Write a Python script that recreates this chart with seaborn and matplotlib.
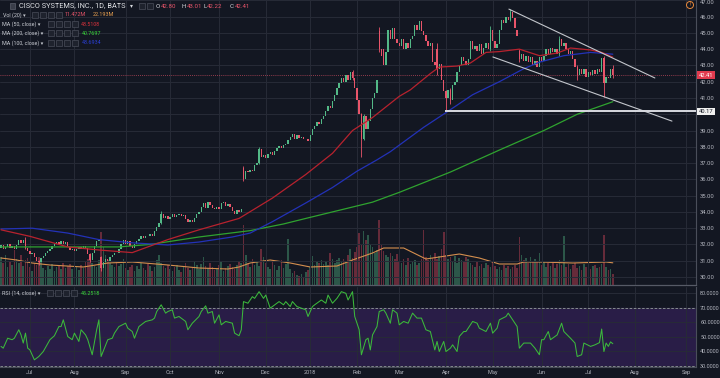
import matplotlib
matplotlib.use("Agg")
import matplotlib.pyplot as plt
from matplotlib.patches import Rectangle, Ellipse
from matplotlib.ticker import FormatStrFormatter
import numpy as np
import pandas as pd
import seaborn as sns

# ---- data: one bar per trading day, index 0 = 2017-06-14 ----
opens = [31.80, 31.95, 31.70, 31.85, 32.05, 31.80, 31.90, 31.75, 31.95, 32.30, 32.10, 32.30, 31.80, 31.60, 31.40, 31.50, 31.20, 31.00, 30.90, 31.15,
         31.30, 31.45, 31.60, 31.75, 31.90, 32.00, 32.15, 32.00, 32.20, 32.05, 32.15, 31.85, 31.65, 31.75, 31.60, 31.70, 31.85, 31.75, 31.90, 31.80,
         31.40, 31.05, 31.50, 31.90, 32.20, 31.20, 30.55, 30.90, 31.10, 31.00, 31.25, 31.35, 31.50, 31.45, 31.70, 32.00, 32.25, 32.05, 32.20, 31.90,
         31.80, 32.00, 32.20, 32.35, 32.50, 32.40, 32.55, 32.50, 32.65, 32.55, 32.80, 33.10, 33.30, 33.90, 33.60, 33.75, 33.55, 33.70, 33.85, 33.70,
         33.80, 33.90, 33.75, 33.80, 33.55, 33.40, 33.50, 33.35, 33.60, 33.85, 34.00, 34.30, 34.55, 34.25, 34.60, 34.40, 34.25, 34.15, 34.30, 34.20,
         34.55, 34.60, 34.35, 34.50, 34.30, 34.05, 33.90, 34.10, 34.00, 36.70, 36.00, 36.50, 36.45, 36.60, 36.50, 36.90, 37.00, 37.85, 37.40, 37.50,
         37.30, 37.55, 37.70, 37.50, 37.75, 37.90, 38.05, 37.95, 38.10, 38.20, 38.40, 38.60, 38.80, 38.50, 38.70, 38.55, 38.60, 38.45, 38.50, 38.35,
         38.75, 39.10, 39.30, 39.50, 39.40, 39.70, 39.90, 40.20, 40.50, 40.40, 40.80, 41.20, 41.60, 41.90, 42.20, 42.00, 42.40, 42.10, 42.60, 42.20,
         41.60, 40.90, 40.00, 38.50, 39.90, 39.10, 39.60, 40.30, 41.00, 41.30, 45.10, 44.00, 44.00, 43.00, 43.80, 45.20, 44.60, 45.30, 44.60, 44.40,
         44.20, 44.60, 44.00, 44.40, 44.10, 44.60, 44.80, 45.50, 45.20, 45.70, 45.10, 44.90, 44.50, 44.20, 44.40, 43.20, 44.00, 42.80, 43.10, 42.10,
         41.40, 41.00, 41.50, 40.90, 41.80, 42.00, 42.60, 43.00, 43.50, 43.30, 43.00, 43.40, 44.50, 44.00, 44.20, 43.90, 44.30, 43.70, 44.10, 44.40,
         44.00, 45.20, 44.50, 44.10, 44.30, 45.20, 45.80, 45.60, 46.00, 45.80, 46.30, 45.90, 45.20, 43.90, 43.40, 43.70, 43.30, 43.60, 43.20, 43.50,
         43.00, 43.30, 42.90, 43.50, 43.30, 43.60, 44.00, 43.70, 44.10, 43.80, 44.00, 43.70, 44.60, 44.20, 44.40, 44.00, 43.70, 43.90, 43.40, 42.90,
         42.40, 42.80, 42.50, 42.80, 42.30, 42.60, 42.40, 42.70, 42.50, 42.80, 42.60, 43.45, 41.95, 42.30, 42.20, 42.80]
closes = [31.95, 31.70, 31.85, 32.05, 31.80, 31.90, 31.75, 31.95, 32.30, 32.10, 32.30, 31.80, 31.60, 31.40, 31.50, 31.20, 31.00, 30.90, 31.15, 31.30,
          31.45, 31.60, 31.75, 31.90, 32.00, 32.15, 32.00, 32.20, 32.05, 32.15, 31.85, 31.65, 31.75, 31.60, 31.70, 31.85, 31.75, 31.90, 31.80, 31.40,
          31.05, 31.50, 31.90, 32.20, 32.35, 30.55, 30.90, 31.10, 31.00, 31.25, 31.35, 31.50, 31.45, 31.70, 32.00, 32.25, 32.05, 32.20, 31.90, 31.80,
          32.00, 32.20, 32.35, 32.50, 32.40, 32.55, 32.50, 32.65, 32.55, 32.80, 33.10, 33.30, 33.90, 33.60, 33.75, 33.55, 33.70, 33.85, 33.70, 33.80,
          33.90, 33.75, 33.80, 33.55, 33.40, 33.50, 33.35, 33.60, 33.85, 34.00, 34.30, 34.55, 34.25, 34.60, 34.40, 34.25, 34.15, 34.30, 34.20, 34.55,
          34.60, 34.35, 34.50, 34.30, 34.05, 33.90, 34.10, 34.00, 34.15, 36.00, 36.50, 36.45, 36.60, 36.50, 36.90, 37.00, 37.85, 37.40, 37.50, 37.30,
          37.55, 37.70, 37.50, 37.75, 37.90, 38.05, 37.95, 38.10, 38.20, 38.40, 38.60, 38.80, 38.50, 38.70, 38.55, 38.60, 38.45, 38.50, 38.35, 38.75,
          39.10, 39.30, 39.50, 39.40, 39.70, 39.90, 40.20, 40.50, 40.40, 40.80, 41.20, 41.60, 41.90, 42.20, 42.00, 42.40, 42.10, 42.60, 42.20, 41.60,
          40.90, 40.00, 38.50, 39.90, 39.10, 39.60, 40.30, 41.00, 41.30, 42.10, 44.00, 43.60, 43.00, 43.80, 45.20, 44.60, 45.30, 44.60, 44.40, 44.20,
          44.60, 44.00, 44.40, 44.10, 44.60, 44.80, 45.50, 45.20, 45.70, 45.10, 44.90, 44.50, 44.20, 44.40, 43.20, 43.00, 42.80, 43.10, 42.10, 41.40,
          41.00, 41.50, 40.90, 41.80, 42.00, 42.60, 43.00, 43.50, 43.30, 43.00, 43.40, 44.50, 44.00, 44.20, 43.90, 44.30, 43.70, 44.10, 44.40, 44.00,
          45.20, 44.50, 44.10, 44.30, 45.20, 45.80, 45.60, 46.00, 45.80, 46.30, 45.90, 45.30, 44.80, 43.40, 43.70, 43.30, 43.60, 43.20, 43.50, 43.00,
          43.30, 42.90, 43.50, 43.30, 43.60, 44.00, 43.70, 44.10, 43.80, 44.00, 43.70, 44.60, 44.20, 44.40, 44.00, 43.70, 43.90, 43.40, 42.90, 42.40,
          42.80, 42.50, 42.80, 42.30, 42.60, 42.40, 42.70, 42.50, 42.80, 42.60, 43.45, 41.95, 42.30, 42.20, 42.80, 42.41]
# visible wicks (bar index, low, high)
wick_idx = [11, 17, 40, 45, 72, 109, 116, 158, 162, 163, 170, 196, 200, 202, 220, 229, 233, 251, 259, 271, 275]
wick_lo = [31.70, 30.75, 30.95, 30.40, 33.25, 35.90, 36.95, 42.10, 37.40, 38.40, 43.80, 42.40, 40.17, 40.60, 43.90, 45.70, 43.20, 43.60, 42.10, 41.06, 42.22]
wick_hi = [32.45, 31.05, 31.45, 31.30, 34.05, 36.85, 38.00, 42.75, 40.10, 40.00, 45.35, 44.40, 41.50, 41.60, 45.40, 46.45, 44.00, 44.80, 43.00, 43.60, 43.01]
# volume in millions
volumes = [28, 22, 30, 18, 24, 20, 35, 26, 22, 30, 19, 25, 27,
           18, 14, 22, 20, 28, 24, 17,
           15, 19, 16, 21, 14, 18, 20, 16, 22, 17, 19,
           21, 16, 24, 18, 15, 20, 17, 23, 26, 30, 22, 19, 18, 25,
           53,
           38, 30, 25, 22, 20, 18, 24, 19, 21, 26, 17,
           15, 18, 20, 14, 19, 16, 22, 17, 15, 21, 19, 14, 18, 25, 30, 22, 19, 17, 20,
           16, 14, 18, 20, 15, 13, 19, 22, 17, 15, 18, 24, 20, 16, 21, 28, 19, 17, 22, 18, 15, 16, 20, 23, 14, 17, 19, 21, 18, 16, 20, 24, 22,
           60,
           30, 22, 18, 26, 20, 24, 19,
           36, 28,
           22, 18, 16, 24, 20, 15, 19, 25, 17, 21,
           46,
           16, 12, 14, 10, 9, 11, 8, 13, 15,
           18, 29, 20, 23, 22, 25, 21, 24, 20,
           32,
           26, 22, 25, 27, 23, 26, 24, 30, 36, 27,
           33, 38,
           52, 40, 54, 45,
           50, 41,
           38, 32, 35,
           65,
           40, 34, 30, 28, 32, 29, 26, 31,
           24, 22, 26, 20, 27, 21, 23, 25, 20, 22, 26,
           55,
           28, 25, 30, 27, 32, 26, 29,
           36,
           53,
           30, 26, 28, 24, 29, 22, 27, 25, 23, 28, 26, 22,
           20, 18, 23, 19, 21, 17, 22, 20, 18, 23, 19,
           16, 18, 15, 20, 17, 19, 16, 18, 20, 17,
           48,
           30, 25, 27, 22, 28, 24, 26, 23,
           32,
           20, 24, 18, 22, 19, 23, 17, 21, 25, 20,
           49,
           18, 21, 16, 20, 22, 17, 19, 15, 21, 18, 22, 16, 19, 20, 17, 18, 21,
           50,
           18, 15, 16,
           11.47]

volma_idx = [0, 7, 14, 22, 37, 48, 59, 75, 89, 102, 107, 112, 121, 130, 139, 151, 158, 167, 172, 181, 191, 206, 215, 224, 232, 235, 242, 257, 272, 275]
volma_val = [27, 25, 22, 20, 18, 22, 23, 20, 17, 16, 18, 22, 25, 22, 18, 19, 25, 32, 37, 37, 26, 31, 27, 21, 21, 23, 23, 22, 23, 22.19]

ma50_idx = [0, 13, 30, 44, 59, 75, 89, 107, 122, 137, 149, 158, 167, 179, 184, 193, 197, 205, 211, 218, 224, 233, 242, 250, 256, 265, 270, 275]
ma50_val = [32.9, 32.5, 31.85, 31.66, 31.5, 32.3, 32.9, 33.6, 34.85, 36.3, 37.6, 39.0, 39.8, 41.1, 41.5, 42.5, 42.9, 42.96, 43.15, 43.8, 43.85, 44.0, 43.6, 43.76, 44.07, 43.95, 43.8, 43.51]
ma100_idx = [0, 14, 30, 44, 59, 75, 89, 104, 112, 122, 137, 149, 160, 169, 175, 179, 190, 200, 212, 224, 235, 242, 253, 265, 275]
ma100_val = [32.95, 33.0, 32.7, 32.3, 32.1, 31.97, 32.15, 32.46, 32.7, 33.4, 34.55, 35.5, 36.5, 37.2, 37.7, 38.1, 39.2, 40.1, 41.2, 42.0, 42.8, 43.2, 43.6, 43.8, 43.69]
ma200_idx = [0, 30, 53, 67, 89, 112, 127, 137, 152, 167, 179, 202, 224, 244, 259, 275]
ma200_val = [31.85, 31.85, 31.85, 32.0, 32.46, 32.85, 33.26, 33.6, 34.1, 34.6, 35.2, 36.45, 37.8, 39.0, 40.0, 40.77]

rsi_idx = [0, 1, 3, 5, 6, 8, 9, 10, 11, 12, 13, 15, 17, 19, 22, 24, 26, 27, 28, 30, 32, 33, 35, 36, 38, 39, 41, 43, 44, 45,
           48, 50, 51, 53, 56, 57, 59, 60, 62, 64, 65, 68, 69, 70, 72, 74, 75, 77, 78, 80, 83, 84, 86, 89, 90, 92, 93, 95, 96, 98,
           99, 101, 104, 105, 107, 108, 109, 111, 113, 114, 116, 118, 119, 121, 122, 124, 125, 127, 128, 130, 131, 133, 135, 137, 138, 140, 141, 143, 144, 146,
           147, 149, 151, 153, 155, 156, 158, 159, 161, 162, 164, 165, 166, 167, 169, 170, 172, 173, 175, 176, 178, 179, 181, 183, 185, 187, 189, 191, 193, 195,
           196, 197, 199, 200, 202, 203, 205, 206, 208, 209, 212, 214, 215, 218, 220, 221, 223, 224, 227, 228, 230, 232, 233, 235, 238, 240, 242, 243, 244, 246,
           247, 250, 252, 253, 256, 258, 259, 261, 262, 265, 267, 269, 270, 271, 272, 273, 274, 275]
rsi_val = [43.4, 42.2, 49.0, 48.0, 49.0, 54.8, 51.3, 45.7, 52.5, 42.2, 41.0, 34.2, 36.5, 39.9, 48.0, 50.7, 57.0, 57.0, 61.6, 50.2,
           48.0, 52.5, 46.8, 54.8, 51.3, 48.0, 37.7, 54.8, 61.6, 36.5, 48.0, 49.0, 52.5, 57.0, 59.3, 55.9, 53.6, 49.0, 57.0, 59.3,
           60.5, 61.6, 62.8, 67.3, 71.9, 66.2, 67.3, 68.5, 62.8, 63.9, 60.5, 54.8, 59.3, 63.9, 67.3, 71.2, 66.2, 67.3, 59.3, 65.0,
           58.2, 60.5, 59.3, 52.5, 50.7, 54.8, 74.1, 73.0, 77.5, 76.3, 80.9, 76.3, 78.6, 69.6, 70.7, 73.0, 74.1, 71.9, 74.1, 70.7,
           74.1, 70.7, 69.6, 68.5, 63.9, 70.7, 71.9, 74.1, 75.2, 73.0, 78.6, 73.0, 76.3, 80.9, 79.8, 75.2, 80.9, 63.9, 54.8, 37.7,
           48.0, 49.0, 41.0, 51.3, 57.0, 67.3, 68.5, 66.2, 59.3, 68.5, 66.2, 58.2, 60.5, 59.3, 66.2, 62.8, 62.8, 54.8, 53.6, 41.0,
           46.8, 39.9, 46.8, 39.9, 42.2, 44.5, 39.9, 50.2, 53.6, 53.6, 60.5, 59.3, 55.9, 53.6, 59.3, 52.5, 55.9, 61.6, 63.9, 66.2,
           61.6, 57.0, 42.2, 45.7, 45.7, 42.2, 37.7, 48.0, 48.0, 53.6, 48.0, 51.3, 59.3, 53.6, 49.0, 45.7, 36.5, 37.7, 45.7, 43.4,
           44.5, 46.0, 55.3, 39.9, 45.7, 43.4, 46.5, 45.25]

month_idx = [13, 33, 56, 76, 98, 119, 139, 160, 179, 200, 221, 243, 264, 285, 308]
month_lbl = ["Jul", "Aug", "Sep", "Oct", "Nov", "Dec", "2018", "Feb", "Mar", "Apr", "May", "Jun", "Jul", "Aug", "Sep"]

# user drawn lines (bar index, price)
upper_idx = [228.3, 293.9]
upper_px = [46.46, 42.23]
lower_idx = [221.1, 301.6]
lower_px = [43.52, 39.58]
support_start = 199.6
support_level = 40.17
last_close = 42.41

BG = "#131722"
GRID = "#272b37"
TXT = "#b2b5be"
UP = "#53b987"
DOWN = "#e9556a"
UP_VOL = "#2c5749"
DOWN_VOL = "#662b3a"

sns.set_style("dark", {"axes.facecolor": BG, "figure.facecolor": BG, "grid.color": GRID,
                       "text.color": TXT, "xtick.color": TXT, "ytick.color": TXT})
plt.rcParams["font.family"] = ["Roboto", "DejaVu Sans"]

df = pd.DataFrame({"open": opens, "close": closes, "volume": volumes})
df["i"] = np.arange(len(df))
df["up"] = df["close"] >= df["open"]

W, H = 720.0, 378.0


def rect(x0, y0, x1, y1):
    return [x0 / W, 1 - y1 / H, (x1 - x0) / W, (y1 - y0) / H]


fig = plt.figure(figsize=(7.2, 3.78), dpi=100)
fig.patch.set_facecolor(BG)

ax_vol = fig.add_axes(rect(0, 0, 696, 285))
ax = fig.add_axes(rect(0, 0, 696, 285), sharex=ax_vol)
ax_rsi = fig.add_axes(rect(0, 287, 696, 367), sharex=ax_vol)
ax.patch.set_alpha(0)

xmin, xmax = -0.45, 312.4

# volume
ax_vol.bar(df["i"], df["volume"], width=0.72,
           color=np.where(df["up"], UP_VOL, DOWN_VOL), linewidth=0)
sns.lineplot(x=volma_idx, y=volma_val, ax=ax_vol, color="#d58f4e", linewidth=0.8, legend=False)
ax_vol.set_ylim(0, 285)
ax_vol.set_yticks([])
ax_vol.tick_params(labelbottom=False, length=0)
for s in ax_vol.spines.values():
    s.set_visible(False)
ax_vol.set_xlabel("")
ax_vol.set_ylabel("")

# candles
wk = pd.DataFrame({"i": wick_idx, "lo": wick_lo, "hi": wick_hi}).merge(df, on="i")
ax.vlines(wk["i"], wk["lo"], wk["hi"], colors=np.where(wk["up"], UP, DOWN), lw=0.6, zorder=3)
body = (df["close"] - df["open"]).abs().clip(lower=0.04)
ax.bar(df["i"], body, bottom=df[["open", "close"]].min(axis=1), width=0.62,
       color=np.where(df["up"], UP, DOWN), linewidth=0, zorder=3)

sns.lineplot(x=ma200_idx, y=ma200_val, ax=ax, color="#2fa32f", linewidth=0.9, legend=False, zorder=4)
sns.lineplot(x=ma100_idx, y=ma100_val, ax=ax, color="#2332b8", linewidth=0.9, legend=False, zorder=4)
sns.lineplot(x=ma50_idx, y=ma50_val, ax=ax, color="#b8222e", linewidth=0.9, legend=False, zorder=4)

ax.plot(upper_idx, upper_px, color="#c3c6cc", lw=0.8, zorder=5)
ax.plot(lower_idx, lower_px, color="#c3c6cc", lw=0.8, zorder=5)
ax.hlines(support_level, support_start, xmax, color="#d8dae0", lw=1.4, zorder=5)
ax.axhline(last_close, color=DOWN, lw=0.6, ls=(0, (1, 1.5)), alpha=0.8, zorder=2)

ax.set_xlim(xmin, xmax)
ax.set_ylim(29.51, 47.02)
ax.set_xticks(month_idx)
price_ticks = np.arange(30, 48)
ax.set_yticks(price_ticks)
# the 40.17 marker box covers the 40.00 label
ax.set_yticklabels(["" if p == 40 else f"{p:.2f}" for p in price_ticks])
ax.yaxis.tick_right()
ax.tick_params(axis="y", length=0, pad=3, labelsize=4.2, labelcolor=TXT)
ax.tick_params(axis="x", length=0, labelbottom=False)
# top label sits right at the pane edge: hang it below its tick
ax.get_yticklabels()[-1].set_va("top")
ax.grid(True, color=GRID, lw=0.7)
ax.set_axisbelow(True)
for s in ["top", "left"]:
    ax.spines[s].set_visible(False)
ax.spines["right"].set_color("#4a4e5a")
ax.spines["right"].set_linewidth(0.8)
ax.spines["bottom"].set_color("#565a66")
ax.spines["bottom"].set_linewidth(0.9)
ax.set_xlabel("")
ax.set_ylabel("")

# price boxes on the right axis
ax.text(1.004, last_close, "42.41", transform=ax.get_yaxis_transform(), fontsize=4.2, color="white",
        va="center", ha="left", bbox=dict(boxstyle="square,pad=0.25", fc="#e03a4e", ec="none"), zorder=6)
ax.text(1.004, support_level, "40.17", transform=ax.get_yaxis_transform(), fontsize=4.2, color="#131722",
        va="center", ha="left", bbox=dict(boxstyle="square,pad=0.25", fc="#f0f0f0", ec="none"), zorder=6)

# RSI pane
ax_rsi.axhspan(30, 70, color="#291d47", zorder=0)
ax_rsi.axhline(70, color="#9598a1", lw=0.6, ls=(0, (3, 2)), zorder=2)
ax_rsi.axhline(30, color="#9598a1", lw=0.6, ls=(0, (3, 2)), zorder=2)
sns.lineplot(x=rsi_idx, y=rsi_val, ax=ax_rsi, color="#3cb93c", linewidth=0.75, legend=False, zorder=3)
ax_rsi.set_ylim(29.3, 84.1)
ax_rsi.set_xlim(xmin, xmax)
ax_rsi.set_yticks([30, 40, 50, 60, 70, 80])
ax_rsi.yaxis.set_major_formatter(FormatStrFormatter("%.4f"))
ax_rsi.yaxis.tick_right()
ax_rsi.set_xticks(month_idx)
ax_rsi.set_xticklabels(month_lbl)
ax_rsi.tick_params(axis="y", length=0, pad=3, labelsize=4.0, labelcolor=TXT)
ax_rsi.tick_params(axis="x", length=0, pad=2.5, labelsize=4.0, labelcolor=TXT)
ax_rsi.grid(True, color=GRID, lw=0.7)
ax_rsi.set_axisbelow(True)
for s in ["top", "left"]:
    ax_rsi.spines[s].set_visible(False)
for s in ["right", "bottom"]:
    ax_rsi.spines[s].set_color("#4a4e5a")
    ax_rsi.spines[s].set_linewidth(0.8)
ax_rsi.set_xlabel("")
ax_rsi.set_ylabel("")


# header / legend texts
def ftext(x, y, s, color="#c9ccd3", size=3.9, **kw):
    fig.text(x / W, 1 - y / H, s, color=color, fontsize=size, va="center", ha="left", **kw)


def icon_boxes(x0, y, n):
    for k in range(n):
        fig.add_artist(Rectangle(((x0 + k * 8) / W, 1 - (y + 3) / H), 6 / W, 6 / H,
                                 transform=fig.transFigure, fc="#1e222d", ec="#4a4e5a", lw=0.5))


fig.add_artist(Rectangle((10 / W, 1 - 9 / H), 5 / W, 6 / H, transform=fig.transFigure,
                         fc="#3a3e4a", ec="#6a6e7a", lw=0.4))
ftext(19, 6, "CISCO SYSTEMS, INC., 1D, BATS", color="#e0e2e6", size=5.3)
ftext(130, 6, "▾", color="#d9dbe0", size=4.2)
icon_boxes(139, 6, 2)
ftext(156, 6, "O", color="#d9dbe0", size=4.4)
ftext(160.5, 6, "42.80", color=DOWN, size=4.4)
ftext(182, 6, "H", color="#d9dbe0", size=4.4)
ftext(186.5, 6, "43.01", color=DOWN, size=4.4)
ftext(203, 6, "L", color="#d9dbe0", size=4.4)
ftext(207, 6, "42.22", color=DOWN, size=4.4)
ftext(230, 6, "C", color="#d9dbe0", size=4.4)
ftext(234.5, 6, "42.41", color=DOWN, size=4.4)

ftext(3, 15, "Vol (20) ▾")
icon_boxes(32, 15, 4)
ftext(65, 15, "11.472M", color=DOWN)
ftext(93, 15, "22.193M", color="#e8a050")

ftext(2, 24.3, "MA (50, close) ▾")
icon_boxes(48, 24.3, 4)
ftext(81, 24.3, "43.5108", color="#d9323c")

ftext(2, 33.3, "MA (200, close) ▾")
icon_boxes(48, 33.3, 4)
ftext(82, 33.3, "40.7697", color="#3ad83a")

ftext(2, 42.7, "MA (100, close) ▾")
icon_boxes(48, 42.7, 4)
ftext(82, 42.7, "43.6934", color="#2a3fd6")

ftext(2, 293.3, "RSI (14, close) ▾")
icon_boxes(47, 293.3, 4)
ftext(81, 293.3, "45.2518", color="#3ad83a")

# alert icon top right
fig.add_artist(Ellipse((690 / W, 1 - 5 / H), 7 / W, 7 / H, transform=fig.transFigure,
                       fc="none", ec="#e8883a", lw=0.7))
fig.text(690 / W, 1 - 5 / H, "!", color="#e8883a", fontsize=4, ha="center", va="center")

fig.savefig("out.png", dpi=100, facecolor=BG)
